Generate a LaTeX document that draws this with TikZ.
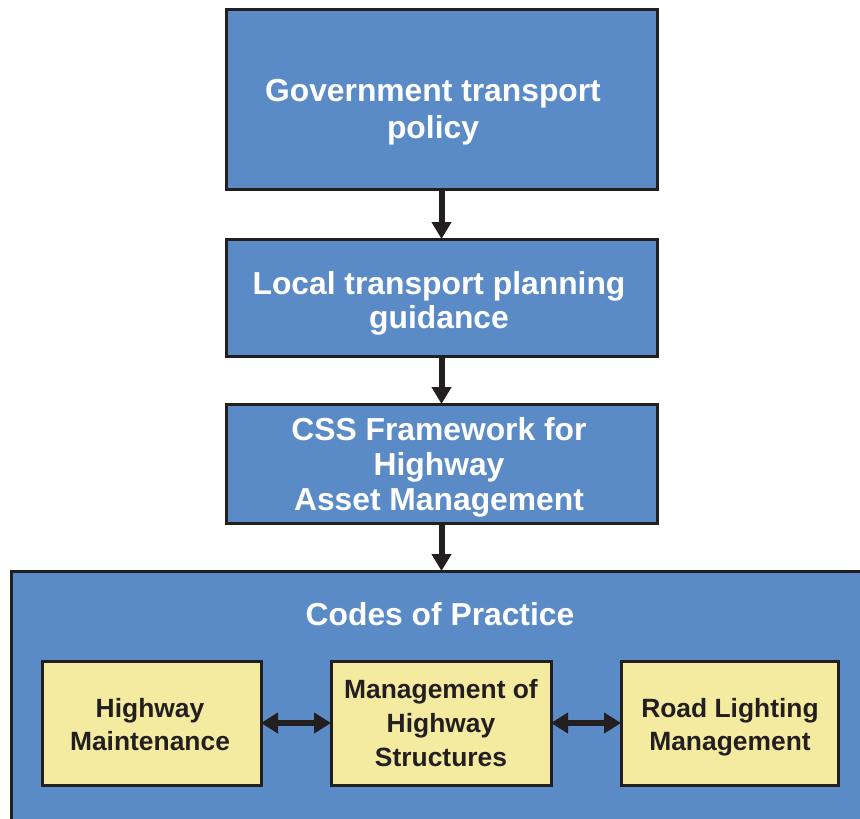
\documentclass[tikz,border=0pt]{standalone}
\usepackage{fontspec}
\setmainfont{Liberation Sans}
\usetikzlibrary{arrows.meta}
\definecolor{boxblue}{RGB}{91,139,199}
\definecolor{boxyellow}{RGB}{244,235,161}
\definecolor{ink}{RGB}{35,31,32}
\tikzset{
  bluebox/.style={draw=ink, line width=3pt, fill=boxblue, rectangle, inner sep=0pt, outer sep=0pt},
  yellowbox/.style={draw=ink, line width=3pt, fill=boxyellow, rectangle, inner sep=0pt, outer sep=0pt},
  bluetext/.style={text=white, align=center, inner sep=0pt, font=\bfseries\fontsize{31.8}{35}\selectfont},
  yellowtext/.style={text=ink, align=center, inner sep=0pt, font=\bfseries\fontsize{26.4}{34}\selectfont},
  downarr/.style={draw=ink, line width=6pt, -{Triangle[length=17pt,width=19pt]}},
  dblarr/.style={draw=ink, line width=6pt, {Triangle[length=17pt,width=20pt]}-{Triangle[length=17pt,width=20pt]}}
}
\begin{document}
\begin{tikzpicture}[x=1pt,y=-1pt]
\useasboundingbox (0,0) rectangle (860,819);
\clip (0,0) rectangle (860,819);
\fill[white] (0,0) rectangle (860,819);
% top boxes
\node[bluebox, minimum width=431pt, minimum height=180pt] (b1) at (441.5,99) {};
\node[bluetext, font=\bfseries\fontsize{31.8}{37}\selectfont] (t1) at (433,112) {Government transport\\policy};
\node[bluebox, minimum width=431pt, minimum height=117pt] (b2) at (441.5,297.5) {};
\node[bluetext, font=\bfseries\fontsize{31.8}{34}\selectfont] (t2) at (439,303) {Local transport planning\\guidance};
\node[bluebox, minimum width=431pt, minimum height=119pt] (b3) at (441.5,463.5) {};
\node[bluetext] (t3) at (439,467.5) {CSS Framework for\\Highway\\Asset Management};
% big box
\node[bluebox, minimum width=869pt, minimum height=269pt] (big) at (445.5,705.5) {};
\node[bluetext] (t4) at (440,614) {Codes of Practice};
% yellow boxes
\node[yellowbox, minimum width=219pt, minimum height=124pt] (y1) at (151.5,723) {};
\node[yellowtext, font=\bfseries\fontsize{26.4}{33}\selectfont] (ty1) at (150,724.5) {Highway\\Maintenance};
\node[yellowbox, minimum width=220pt, minimum height=124pt] (y2) at (441,723) {};
\node[yellowtext] (ty2) at (441,723) {Management of\\Highway\\Structures};
\node[yellowbox, minimum width=217pt, minimum height=124pt] (y3) at (729.5,723) {};
\node[yellowtext, font=\bfseries\fontsize{26.4}{33}\selectfont] (ty3) at (730,727.5) {Road Lighting\\Management};
% arrows
\draw[downarr] (b1.south) -- (b2.north);
\draw[downarr] (b2.south) -- (b3.north);
\draw[downarr] (b3.south) -- (b3.south |- big.north);
\draw[dblarr] (y1.east) -- (y2.west);
\draw[dblarr] (y2.east) -- (y3.west);
\end{tikzpicture}
\end{document}
